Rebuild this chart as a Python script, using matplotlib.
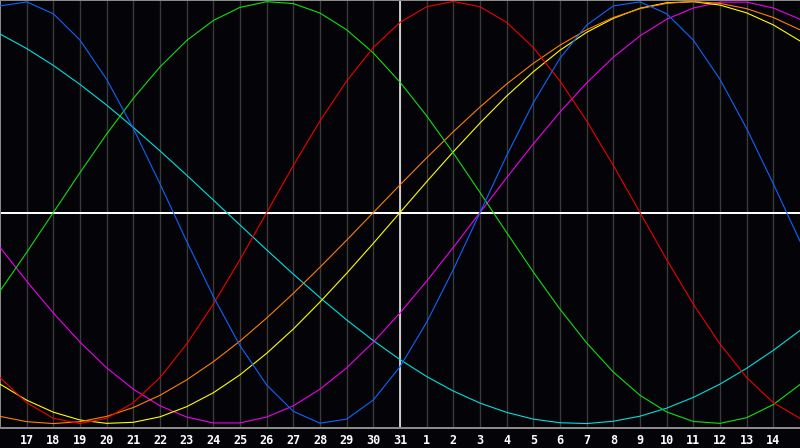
"""Biorhythm chart: seven cycles over a 30-day window, today marked in white."""
import matplotlib
matplotlib.use("Agg")
import matplotlib.pyplot as plt

# ---- data (one per day column) -----------------------------------------------
day_labels = ["17", "18", "19", "20", "21", "22", "23", "24", "25", "26", "27",
              "28", "29", "30", "31", "1", "2", "3", "4", "5", "6", "7", "8",
              "9", "10", "11", "12", "13", "14"]
today_label = "31"

blue = [0.979, 0.998, 0.942, 0.817, 0.631, 0.398, 0.136, -0.136, -0.398, -0.631,
        -0.817, -0.942, -0.998, -0.979, -0.888, -0.731, -0.520, -0.270, 0.000,
        0.270, 0.520, 0.731, 0.888, 0.979, 0.998, 0.942, 0.817, 0.631, 0.398,
        0.136, -0.136]
red = [-0.782, -0.901, -0.975, -1.000, -0.975, -0.901, -0.782, -0.623, -0.434,
       -0.223, 0.000, 0.223, 0.434, 0.623, 0.782, 0.901, 0.975, 1.000, 0.975,
       0.901, 0.782, 0.623, 0.434, 0.223, 0.000, -0.223, -0.434, -0.623, -0.782,
       -0.901, -0.975]
green = [-0.372, -0.189, 0.000, 0.189, 0.372, 0.541, 0.690, 0.815, 0.910, 0.972,
         0.999, 0.990, 0.945, 0.866, 0.756, 0.618, 0.458, 0.282, 0.095, -0.095,
         -0.282, -0.458, -0.618, -0.756, -0.866, -0.945, -0.990, -0.999, -0.972,
         -0.910, -0.815]
cyan = [0.846, 0.777, 0.697, 0.607, 0.509, 0.403, 0.292, 0.177, 0.059, -0.059,
        -0.177, -0.292, -0.403, -0.509, -0.607, -0.697, -0.777, -0.846, -0.903,
        -0.947, -0.979, -0.996, -1.000, -0.989, -0.965, -0.927, -0.876, -0.813,
        -0.738, -0.653, -0.559]
orange = [-0.966, -0.991, -1.000, -0.991, -0.966, -0.924, -0.866, -0.793, -0.707,
          -0.609, -0.500, -0.383, -0.259, -0.131, 0.000, 0.131, 0.259, 0.383,
          0.500, 0.609, 0.707, 0.793, 0.866, 0.924, 0.966, 0.991, 1.000, 0.991,
          0.966, 0.924, 0.866]
yellow = [-0.813, -0.889, -0.946, -0.983, -0.999, -0.994, -0.968, -0.920, -0.854,
          -0.769, -0.667, -0.552, -0.424, -0.288, -0.146, 0.000, 0.146, 0.288,
          0.424, 0.552, 0.667, 0.769, 0.854, 0.920, 0.968, 0.994, 0.999, 0.983,
          0.946, 0.889, 0.813]
magenta = [-0.165, -0.325, -0.476, -0.614, -0.736, -0.837, -0.916, -0.969, -0.997,
           -0.997, -0.969, -0.916, -0.837, -0.736, -0.614, -0.476, -0.325, -0.165,
           0.000, 0.165, 0.325, 0.476, 0.614, 0.736, 0.837, 0.916, 0.969, 0.997,
           0.997, 0.969, 0.916]

series = [
    (cyan, "#00e0e0"),
    (magenta, "#f000f0"),
    (yellow, "#ffff00"),
    (orange, "#ff8000"),
    (green, "#10e010"),
    (red, "#f00000"),
    (blue, "#1064ff"),
]

BG = "#040408"
GRID = "#3a3a3a"
PX = 72 / 100  # one pixel in points at dpi=100

fig = plt.figure(figsize=(8, 4.48), dpi=100, facecolor=BG)
ax = fig.add_axes([0, 20 / 448, 1, 428 / 448], facecolor=BG)

days = list(range(len(blue)))
tick_pos = list(range(1, len(day_labels) + 1))

for x in tick_pos:
    ax.axvline(x, color=GRID, lw=1.4 * PX, zorder=1)

ax.axhline(0, color="white", lw=2 * PX, zorder=2)
ax.axvline(tick_pos[day_labels.index(today_label)], color="white", lw=1.5 * PX, zorder=2)

for values, color in series:
    ax.plot(days, values, color=color, lw=1.1 * PX, zorder=3, solid_joinstyle="round")

ax.set_xlim(0, len(blue) - 1)
ax.set_ylim(-1.021, 1.007)
ax.set_yticks([])
ax.set_xticks(tick_pos)
ax.set_xticklabels(day_labels, color="white", fontsize=8.5, fontweight="bold",
                   family="DejaVu Sans Mono")
ax.tick_params(axis="x", length=0, pad=4)

for side in ("left", "top", "bottom"):
    ax.spines[side].set_color("#8a8a8a")
    ax.spines[side].set_linewidth(2 * PX)
ax.spines["right"].set_visible(False)

fig.savefig("out.png", dpi=100, facecolor=BG)
